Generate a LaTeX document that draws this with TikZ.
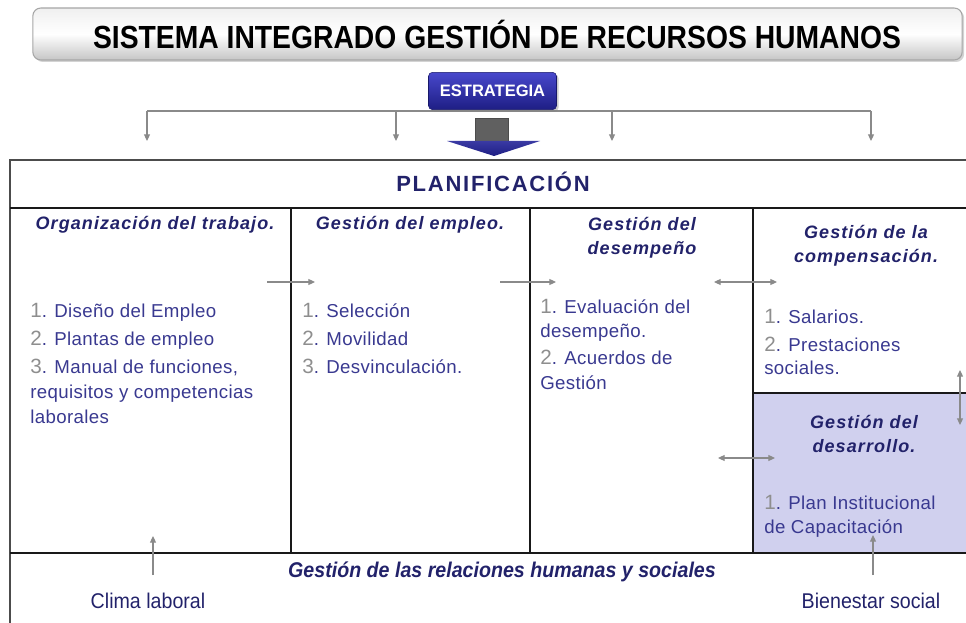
\documentclass[tikz,border=0pt]{standalone}
\usepackage{fontspec}
\setmainfont{Liberation Sans}
\usetikzlibrary{arrows.meta,shadows}
\definecolor{navy}{HTML}{22226A}
\definecolor{itemc}{HTML}{393990}
\definecolor{numc}{HTML}{8E8E8E}
\definecolor{lav}{HTML}{D0D0EE}
\definecolor{arrowg}{HTML}{8A8A8A}
\definecolor{bluetop}{HTML}{4848CC}
\definecolor{bluebot}{HTML}{1E1E84}
\newcommand\nm[1]{{\fontsize{15.5}{15}\selectfont\textcolor{numc}{#1}}}
\tikzset{
  hdr/.style={font=\bfseries\itshape\fontsize{13.5}{18}\selectfont\addfontfeature{LetterSpace=6}, text=navy, align=center, inner sep=0pt},
  item/.style={anchor=base west, font=\fontsize{14}{15}\selectfont\addfontfeature{LetterSpace=2}, text=itemc, inner sep=0pt},
  plain/.style={font=\fontsize{16}{15}\selectfont, text=navy, inner sep=0pt},
  garrow/.style={draw=arrowg, line width=0.8pt, -{Triangle[length=5pt,width=4.5pt]}},
  gdarrow/.style={draw=arrowg, line width=0.8pt, {Triangle[length=5pt,width=4.5pt]}-{Triangle[length=5pt,width=4.5pt]}},
  gline/.style={draw=arrowg, line width=0.8pt},
  frameline/.style={draw=black!90, line width=2pt},
}
\begin{document}
\begin{tikzpicture}[x=0.75pt,y=-0.75pt]
\useasboundingbox (0,0) rectangle (966,623);
% title
\node[draw=gray!70, line width=0.8pt, rounded corners=6pt, minimum width=697pt, minimum height=39pt,
      top color=gray!12, bottom color=gray!45, middle color=white, drop shadow={opacity=0.35, shadow xshift=1.5pt, shadow yshift=-1.5pt}]
  (titlebox) at (497.5,34) {};
\node (title) at (497,34) {\scalebox{0.884}[1]{\fontsize{24}{24}\selectfont\bfseries SISTEMA INTEGRADO GESTIÓN DE RECURSOS HUMANOS}};
% strategy connectors
\coordinate (t1) at (147,111); \coordinate (t2) at (396,111);
\coordinate (t3) at (612,111); \coordinate (t4) at (871,111);
\coordinate (b1) at (147,141); \coordinate (b2) at (396,141);
\coordinate (b3) at (612,141); \coordinate (b4) at (871,141);
\draw[gline] (t1) -- (t4);
\foreach \i in {1,2,3,4} \draw[garrow] (t\i) -- (b\i);
\node[draw=bluebot!80!black, rounded corners=3pt, minimum width=96pt, minimum height=28pt,
      top color=bluetop, bottom color=bluebot, drop shadow={opacity=0.4, shadow xshift=1.5pt, shadow yshift=-1.5pt},
      text=white, font=\bfseries\fontsize{12.4}{12}\selectfont] (estr) at (492.5,91) {ESTRATEGIA};
% block arrow
\fill[gray!75!black, draw=black!70, line width=0.5pt] (475,118) rectangle (508,141);
\shade[top color=bluetop!80!black, bottom color=bluebot] (447,141) -- (540,141) -- (494,156) -- cycle;
% lavender cell
\fill[lav] (753,393) rectangle (966,553);
% frame
\draw[draw=black!70, line width=2pt] (10,623) -- (10,160) -- (966,160);
\draw[frameline] (10,208) -- (966,208);
\draw[frameline] (10,553) -- (966,553);
\draw[frameline] (291,208) -- (291,553);
\draw[frameline] (530,208) -- (530,553);
\draw[frameline] (753,208) -- (753,553);
\draw[frameline] (753,393) -- (966,393);
\node[font=\bfseries\fontsize{16.5}{16}\selectfont\addfontfeature{LetterSpace=8}, text=navy] (plan) at (493,182) {PLANIFICACIÓN};
% headers
\node[hdr] (h1) at (155,225) {Organización del trabajo.};
\node[hdr] (h2) at (410,225) {Gestión del empleo.};
\node[hdr] (h3) at (642,238) {Gestión del\\desempeño};
\node[hdr] (h4) at (866,246) {Gestión de la\\compensación.};
\node[hdr] (h5) at (864,434) {Gestión del\\desarrollo.};
% items col1
\node[item] (a1) at (30,317) {\nm{1}. Diseño del Empleo};
\node[item] (a2) at (30,345) {\nm{2}. Plantas de empleo};
\node[item] (a3) at (30,373) {\nm{3}. Manual de funciones,};
\node[item] (a4) at (30,398) {requisitos y competencias};
\node[item] (a5) at (30,423) {laborales};
% col2
\node[item] (b1n) at (302,317) {\nm{1}. Selección};
\node[item] (b2n) at (302,345) {\nm{2}. Movilidad};
\node[item] (b3n) at (302,373) {\nm{3}. Desvinculación.};
% col3
\node[item] (c1) at (540,313) {\nm{1}. Evaluación del};
\node[item] (c2) at (540,337) {desempeño.};
\node[item] (c3) at (540,364) {\nm{2}. Acuerdos de};
\node[item] (c4) at (540,389) {Gestión};
% col4
\node[item] (d1) at (764,323) {\nm{1}. Salarios.};
\node[item] (d2) at (764,351) {\nm{2}. Prestaciones};
\node[item] (d3) at (764,374) {sociales.};
% col5
\node[item] (e1) at (764,509) {\nm{1}. Plan Institucional};
\node[item] (e2) at (764,533) {de Capacitación};
% inner arrows
\coordinate (p1) at (267,282); \coordinate (q1) at (315,282);
\coordinate (p2) at (500,282); \coordinate (q2) at (556,282);
\coordinate (p3) at (714,282); \coordinate (q3) at (777,282);
\coordinate (p4) at (718,458); \coordinate (q4) at (775,458);
\coordinate (p5) at (960,370); \coordinate (q5) at (960,425);
\draw[garrow] (p1) -- (q1);
\draw[garrow] (p2) -- (q2);
\draw[gdarrow] (p3) -- (q3);
\draw[gdarrow] (p4) -- (q4);
\draw[gdarrow] (p5) -- (q5);
% bottom
\node[font=\bfseries\itshape\fontsize{16}{15}\selectfont, text=navy] (rel) at (502,572) {\scalebox{0.92}[1]{Gestión de las relaciones humanas y sociales}};
\node[plain] (clima) at (148,601) {\scalebox{0.92}[1]{Clima laboral}};
\node[plain] (bien) at (871,601) {\scalebox{0.92}[1]{Bienestar social}};
\coordinate (u1) at (153,575); \coordinate (v1) at (153,536);
\coordinate (u2) at (873,575); \coordinate (v2) at (873,535);
\draw[garrow] (u1) -- (v1);
\draw[garrow] (u2) -- (v2);
\end{tikzpicture}
\end{document}
